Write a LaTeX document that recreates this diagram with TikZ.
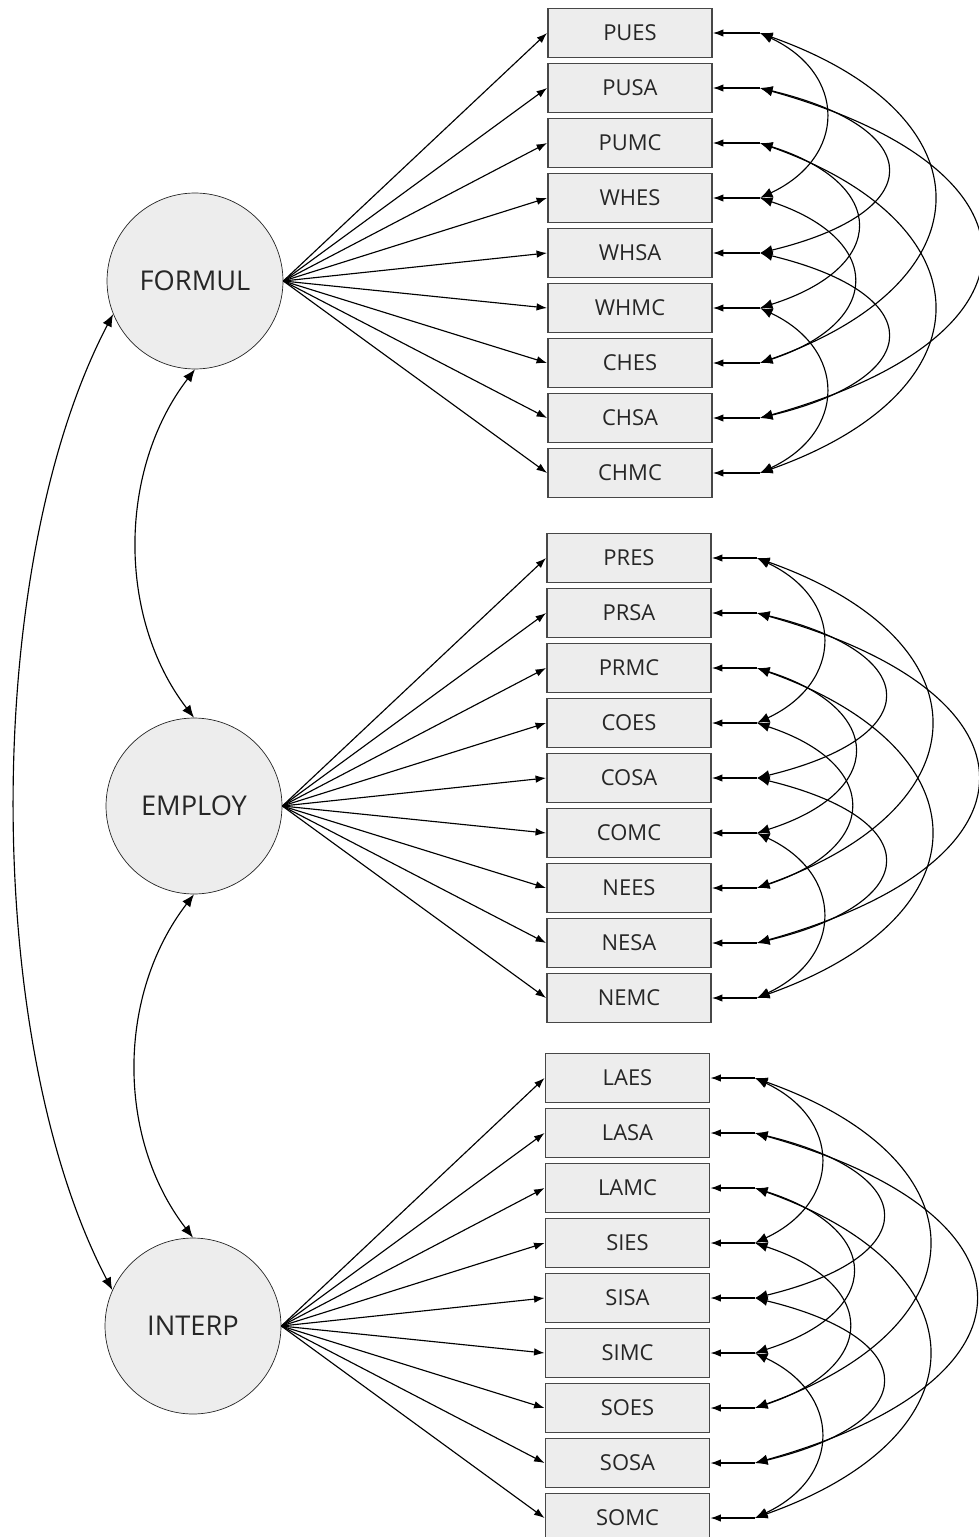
\documentclass[tikz,border=0pt]{standalone}
\usepackage{fontspec}
\setmainfont{Open Sans}
\usepackage{xcolor}
\definecolor{shade}{rgb}{0.93, 0.93, 0.93}
\definecolor{ink}{rgb}{0.15, 0.15, 0.15}
\usetikzlibrary{arrows.meta}

\begin{document}
\begin{tikzpicture}[x=0.02cm, y=-0.02cm,
		latent/.style={circle, draw=ink, fill=shade, minimum size=3.52cm, inner sep=0pt, text=ink, font=\fontsize{15.5}{18}\selectfont},
		observed/.style={rectangle, draw=ink!85, line width=1.1pt, fill=shade, minimum width=3.28cm, minimum height=0.98cm, inner sep=0pt, text=ink, font=\fontsize{12.5}{15}\selectfont},
		tip/.style={line width=0.65pt, -{Latex[length=2.1mm, width=1.5mm]}},
		twotip/.style={line width=0.65pt, {Latex[length=2.5mm, width=2mm]}-{Latex[length=2.5mm, width=2mm]}}]
			\useasboundingbox (0,0) rectangle (979,1537);

			% Latent factors
			\node[latent] (FORMUL) at (195,281) {FORMUL};
			\node[latent] (EMPLOY) at (194,806) {EMPLOY};
			\node[latent] (INTERP) at (193,1326) {INTERP};

			% Indicators, error points and loadings
			\foreach \blk/\lat/\bx/\ex/\by/\names in {
				1/FORMUL/630/760/33/{PUES,PUSA,PUMC,WHES,WHSA,WHMC,CHES,CHSA,CHMC},
				2/EMPLOY/629/757/558/{PRES,PRSA,PRMC,COES,COSA,COMC,NEES,NESA,NEMC},
				3/INTERP/627.5/755/1078/{LAES,LASA,LAMC,SIES,SISA,SIMC,SOES,SOSA,SOMC}}
			\foreach \nm [count=\i] in \names {
				\node[observed] (\nm) at (\bx,{\by+55*(\i-1)}) {\nm};
				\coordinate (d\blk-\i) at (\ex,{\by+55*(\i-1)});
				\draw[tip] (\lat.east) -- (\nm.west);
				\draw[tip] (d\blk-\i) -- (\nm.east);
			}

			% Error covariances (same method)
			\foreach \blk in {1,2,3}
			\foreach \p/\q/\d/\h in {1/4/87/41, 4/7/124/41, 1/7/231/82, 2/5/169/41, 5/8/169/41, 2/8/293/82, 3/6/129/41, 6/9/87/41, 3/9/231/82}
			\draw[twotip] (d\blk-\p) .. controls +(\d,\h) and +(\d,-\h) .. (d\blk-\q);

			% Factor covariances
			\draw[twotip] (FORMUL.south) .. controls +(-77,100) and +(-77,-100) .. (EMPLOY.north);
			\draw[twotip] (EMPLOY.south) .. controls +(-77,100) and +(-77,-100) .. (INTERP.north);
			\draw[twotip] (FORMUL.202) .. controls +(-131,250) and +(-131,-250) .. (INTERP.156);
		\end{tikzpicture}
\end{document}
